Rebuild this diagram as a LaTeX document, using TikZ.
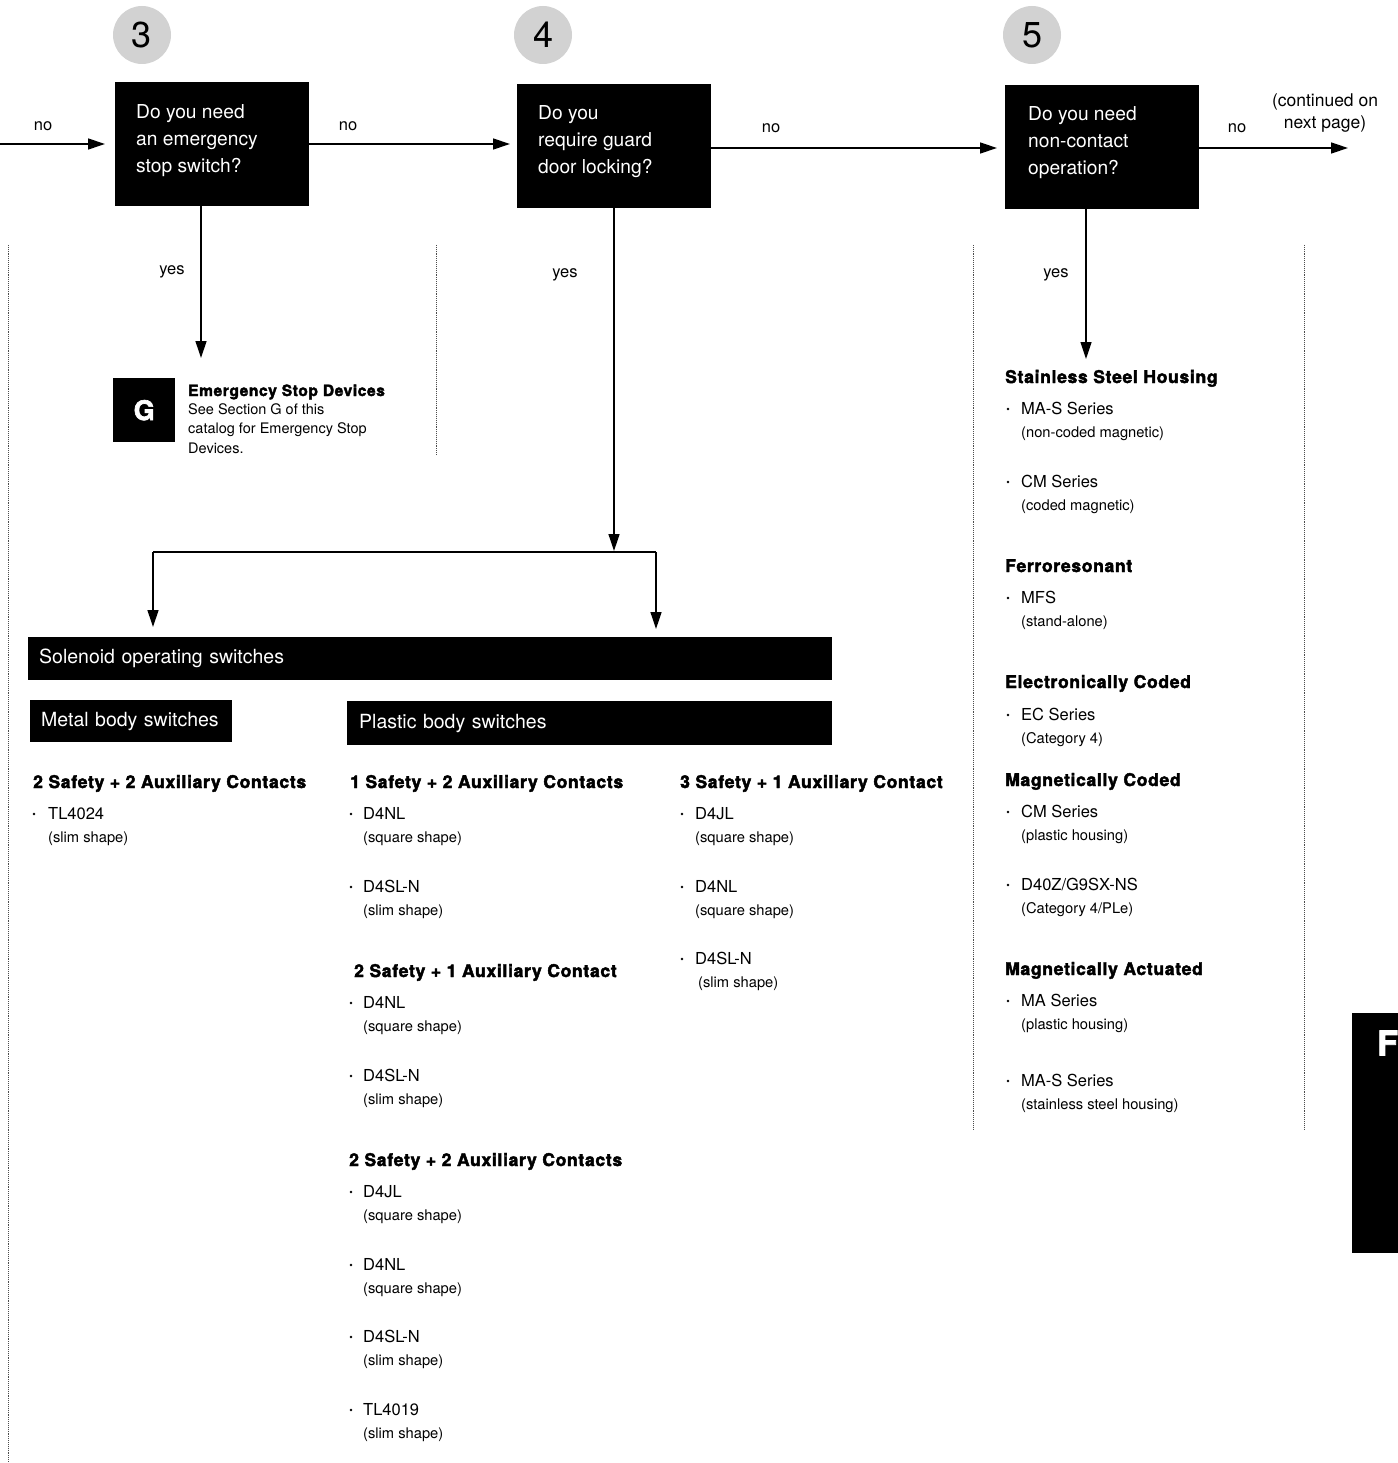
\documentclass[tikz,border=0pt]{standalone}
\usepackage{fontspec}
\setmainfont{TeX Gyre Heros}[BoldFeatures={FakeBold=2.5, LetterSpace=4}]
\usetikzlibrary{arrows.meta}
\definecolor{numgray}{HTML}{D2D2D2}
\newcommand\hdg[4]{\node[hd] (#1) at (#2,#3+6) {#4};}
\newcommand\pitem[6]{%
  \node[bul] (#1d) at (#2+2,#3+1) {};
  \node[it] (#1) at (#2+#6,#3+6) {#4};
  \node[sub] (#1s) at (#2+#6,#3+29) {#5};}
\tikzset{
  qbox/.style={fill=black, draw=none, minimum width=194pt, minimum height=124pt, anchor=north west, inner sep=0},
  qtxt/.style={text=white, font=\fontsize{19.2}{27}\selectfont, align=left, anchor=north west, inner sep=0},
  num/.style={circle, fill=numgray, minimum size=58pt, inner sep=0, font=\fontsize{36}{36}\selectfont},
  lab/.style={font=\fontsize{16.5}{22}\selectfont, inner sep=0},
  arr/.style={line width=1.3pt, -{Triangle[length=17pt,width=11pt]}},
  ln/.style={line width=1.3pt},
  sepl/.style={densely dotted, line width=0.9pt, color=black!70},
  bar/.style={fill=black, text=white, anchor=north west, inner ysep=0, align=left, font=\fontsize{19.5}{21}\selectfont},
  hd/.style={font=\bfseries\fontsize{17.5}{20}\selectfont, anchor=base west, inner sep=0},
  it/.style={font=\fontsize{16.5}{20}\selectfont, anchor=base west, inner sep=0},
  sub/.style={font=\fontsize{14.7}{16}\selectfont, anchor=base west, inner sep=0},
  bul/.style={circle, fill=black, minimum size=2.8pt, inner sep=0},
}
\begin{document}
\begin{tikzpicture}[x=1pt,y=-1pt]
\useasboundingbox (0,0) rectangle (1397,1463);
% step numbers
\node[num] (n3) at (142,35) {3};
\node[num] (n4) at (543,35) {4};
\node[num] (n5) at (1032,35) {5};
% question boxes
\node[qbox] (b3) at (115,82) {};
\node[qbox] (b4) at (517,84) {};
\node[qbox] (b5) at (1005,85) {};
\node[qtxt] (b3t) at (136,104) {Do you need\\an emergency\\stop switch?};
\node[qtxt] (b4t) at (538,105) {Do you\\require guard\\door locking?};
\node[qtxt] (b5t) at (1028,106) {Do you need\\non-contact\\operation?};
% horizontal flow
\coordinate (in3) at (0,144);
\coordinate (cont) at (1348,148);
\draw[arr, shorten >=10pt] (in3) -- (in3 -| b3.west);
\draw[arr, shorten >=7pt] (b3.east |- in3) -- (b4.west |- in3);
\draw[arr, shorten >=8pt] (b4.east |- cont) -- (b5.west |- cont);
\draw[arr] (b5.east |- cont) -- (cont);
\node[lab] (no1) at (43,126) {no};
\node[lab] (no2) at (348,126) {no};
\node[lab] (no3) at (771,128) {no};
\node[lab] (no4) at (1237,128) {no};
\node[lab, align=center, font=\fontsize{17.5}{22}\selectfont] (contt) at (1325,113) {(continued on\\next page)};
% yes branches
\coordinate (e3) at (201,358);
\coordinate (e4) at (614,551);
\coordinate (e5) at (1086,359);
\draw[arr] (b3.south -| e3) -- (e3);
\draw[arr] (b4.south -| e4) -- (e4);
\draw[arr] (b5.south -| e5) -- (e5);
\node[lab] (y3) at (172,272) {yes};
\node[lab] (y4) at (565,275) {yes};
\node[lab] (y5) at (1056,275) {yes};
% separators
\coordinate (s1a) at (8,245); \coordinate (s1b) at (8,1463);
\coordinate (s2a) at (436,245); \coordinate (s2b) at (436,455);
\coordinate (s3a) at (973,245); \coordinate (s3b) at (973,1130);
\coordinate (s4a) at (1304,245); \coordinate (s4b) at (1304,1130);
\draw[sepl] (s1a) -- (s1b);
\draw[sepl] (s2a) -- (s2b);
\draw[sepl] (s3a) -- (s3b);
\draw[sepl] (s4a) -- (s4b);
% G reference
\node[fill=black, text=white, minimum width=62pt, minimum height=64pt, inner sep=0, anchor=north west, font=\bfseries\fontsize{27}{27}\selectfont] (gbox) at (113,378) {G};
\node[font=\bfseries\fontsize{15.5}{18}\selectfont, anchor=base west, inner sep=0] (gh) at (188,396) {Emergency Stop Devices};
\node[font=\fontsize{14.5}{19.5}\selectfont, anchor=north west, inner sep=0, align=left] (gt) at (188,403) {See Section G of this\\catalog for Emergency Stop\\Devices.};
% split to solenoid switches
\coordinate (jl) at (153,552);
\coordinate (jr) at (656,552);
\coordinate (al) at (153,627);
\coordinate (ar) at (656,629);
\draw[ln] (jl) -- (jr);
\draw[arr] (jl) -- (al);
\draw[arr] (jr) -- (ar);
% bars
\node[bar, minimum width=804pt, minimum height=43pt, text width=782pt, inner xsep=11pt] (sol) at (28,637) {Solenoid operating switches};
\node[bar, minimum width=202pt, minimum height=42pt, text width=180pt, inner xsep=11pt] (metal) at (30,700) {Metal body switches};
\node[bar, minimum width=485pt, minimum height=44pt, text width=461pt, inner xsep=12pt] (plastic) at (347,701) {Plastic body switches};
% column 1
\hdg{h1}{33}{782}{2 Safety + 2 Auxiliary Contacts}
\pitem{tl4024}{32}{813}{TL4024}{(slim shape)}{16}
% column 2
\hdg{h2}{350}{782}{1 Safety + 2 Auxiliary Contacts}
\pitem{c2a}{349}{813}{D4NL}{(square shape)}{14}
\pitem{c2b}{349}{886}{D4SL-N}{(slim shape)}{14}
\hdg{h3}{354}{971}{2 Safety + 1 Auxiliary Contact}
\pitem{c2c}{349}{1002}{D4NL}{(square shape)}{14}
\pitem{c2d}{349}{1075}{D4SL-N}{(slim shape)}{14}
\hdg{h4}{349}{1160}{2 Safety + 2 Auxiliary Contacts}
\pitem{c2e}{349}{1191}{D4JL}{(square shape)}{14}
\pitem{c2f}{349}{1264}{D4NL}{(square shape)}{14}
\pitem{c2g}{349}{1336}{D4SL-N}{(slim shape)}{14}
\pitem{c2h}{349}{1409}{TL4019}{(slim shape)}{14}
% column 3
\hdg{h5}{680}{782}{3 Safety + 1 Auxiliary Contact}
\pitem{c3a}{680}{813}{D4JL}{(square shape)}{15}
\pitem{c3b}{680}{886}{D4NL}{(square shape)}{15}
\node[bul] (c3cd) at (682,959) {};
\node[it] (c3c) at (695,964) {D4SL-N};
\node[sub] (c3cs) at (698,987) {(slim shape)};
% column 4
\hdg{h6}{1005}{377}{Stainless Steel Housing}
\pitem{c4a}{1006}{408}{MA-S Series}{(non-coded magnetic)}{15}
\pitem{c4b}{1006}{481}{CM Series}{(coded magnetic)}{15}
\hdg{h7}{1005}{566}{Ferroresonant}
\pitem{c4c}{1006}{597}{MFS}{(stand-alone)}{15}
\hdg{h8}{1005}{682}{Electronically Coded}
\pitem{c4d}{1006}{714}{EC Series}{(Category 4)}{15}
\hdg{h9}{1005}{780}{Magnetically Coded}
\pitem{c4e}{1006}{811}{CM Series}{(plastic housing)}{15}
\pitem{c4f}{1006}{884}{D40Z/G9SX-NS}{(Category 4/PLe)}{15}
\hdg{h10}{1005}{969}{Magnetically Actuated}
\pitem{c4g}{1006}{1000}{MA Series}{(plastic housing)}{15}
\pitem{c4h}{1006}{1080}{MA-S Series}{(stainless steel housing)}{15}
% section tab
\node[fill=black, minimum width=60pt, minimum height=240pt, inner sep=0, anchor=north west] (ftab) at (1352,1013) {};
\node[text=white, font=\bfseries\fontsize{34}{34}\selectfont, anchor=west, inner sep=0] (fl) at (1377,1043) {F};
\end{tikzpicture}
\end{document}
